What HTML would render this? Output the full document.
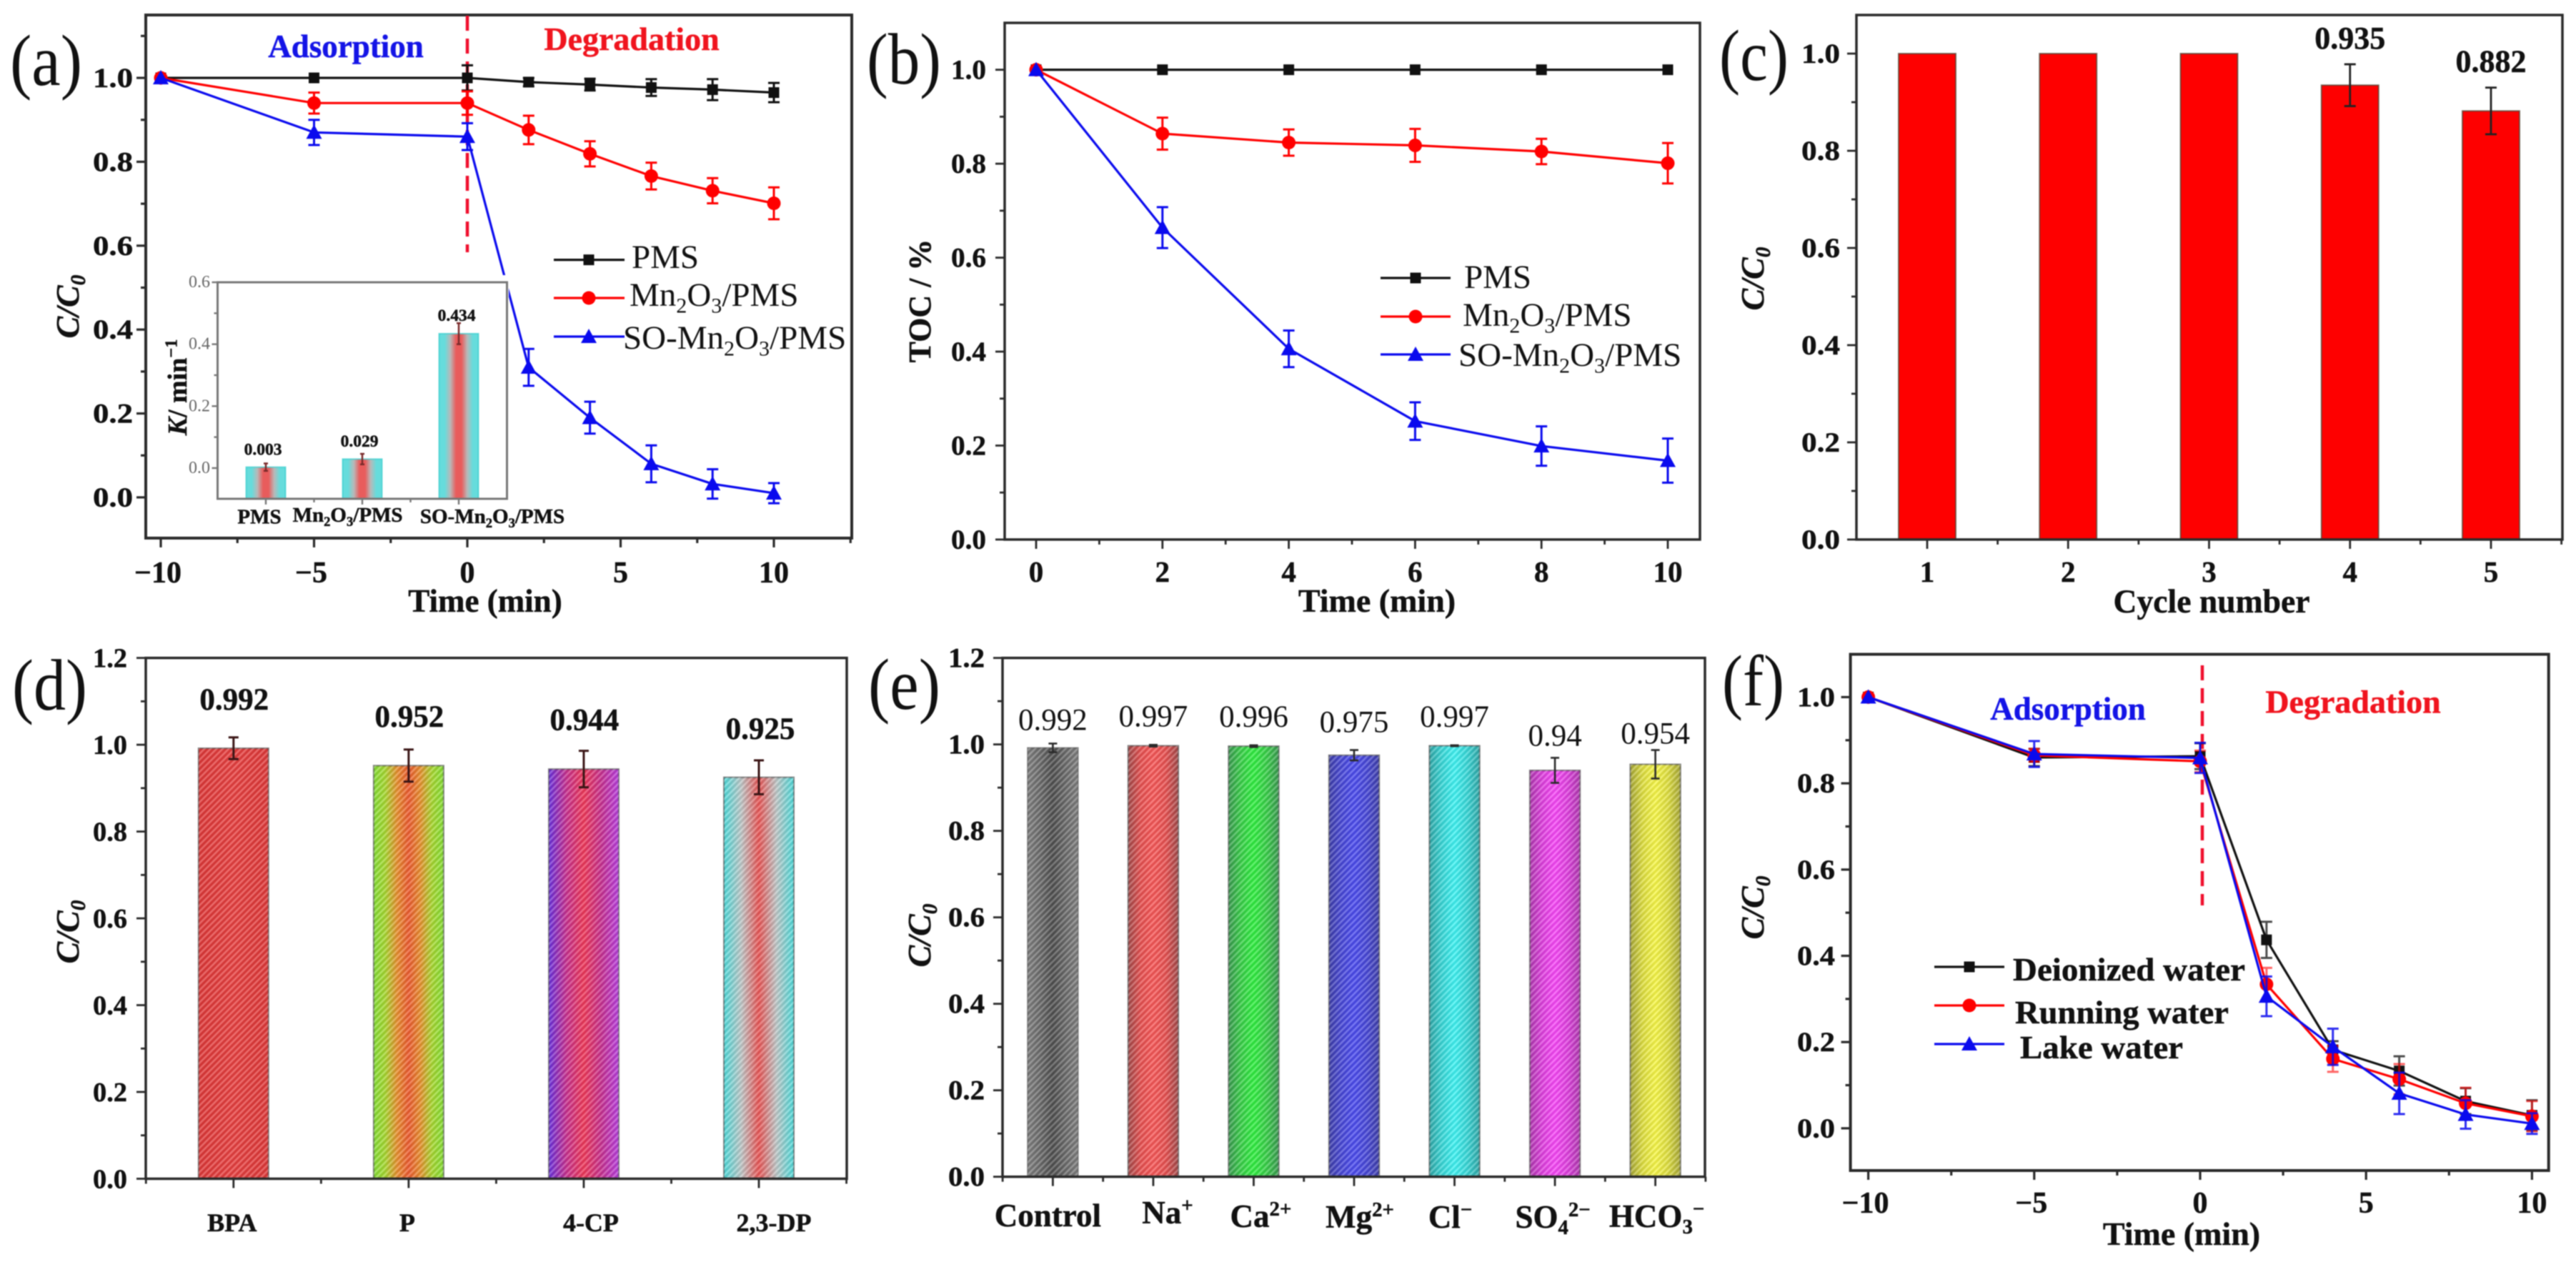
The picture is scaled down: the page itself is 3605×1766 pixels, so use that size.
<!DOCTYPE html>
<html lang="en">
<head>
<meta charset="utf-8">
<title>Degradation performance panels</title>
<style>
html,body{margin:0;padding:0;background:#fff;}
svg{display:block;filter:blur(0.7px);}
text{font-family:"Liberation Serif","DejaVu Serif",serif;}
</style>
</head>
<body>
<svg id="figure" xmlns="http://www.w3.org/2000/svg" width="3605" height="1766" viewBox="0 0 3605 1766">
<defs>
<pattern id="hatch" width="6" height="6" patternUnits="userSpaceOnUse" patternTransform="rotate(45)">
<rect width="2.6" height="6" fill="#fff" fill-opacity="0.24"/>
<rect x="2.6" width="3.4" height="6" fill="#000" fill-opacity="0.08"/>
</pattern>
</defs>
<rect width="3605" height="1766" fill="#fff"/>
</svg>
<script>
/* ---------- panel (a) data ---------- */
const aTime = [-10, -5, 0, 2, 4, 6, 8, 10];
const aPms = [1, 1, 1, 0.99, 0.984, 0.977, 0.972, 0.965];
const aPmsErr = [0, 0, 0.03, 0.01, 0.014, 0.02, 0.025, 0.023];
const aMn = [1, 0.94, 0.94, 0.876, 0.819, 0.766, 0.731, 0.701];
const aMnErr = [0, 0.025, 0.028, 0.034, 0.03, 0.032, 0.03, 0.038];
const aSo = [1, 0.87, 0.86, 0.31, 0.19, 0.08, 0.032, 0.01];
const aSoErr = [0, 0.03, 0.032, 0.044, 0.038, 0.044, 0.035, 0.024];
const aXMajor = [-10, -5, 0, 5, 10];
const aXMinor = [-7.5, -2.5, 2.5, 7.5, 12.5];
const aYMajor = [0, 0.2, 0.4, 0.6, 0.8, 1.0];
const aYMinor = [0.1, 0.3, 0.5, 0.7, 0.9, 1.1];

/* ---------- inset data ---------- */
const insetCategories = ['PMS', 'Mn_{2}O_{3}/PMS', 'SO-Mn_{2}O_{3}/PMS'];
const insetValues = [0.003, 0.029, 0.434];
const insetErr = [0.012, 0.017, 0.034];
const insetLabels = ['0.003', '0.029', '0.434'];
const insetYMajor = [0, 0.2, 0.4, 0.6];
const insetYMinor = [0.1, 0.3, 0.5];

/* ---------- panel (b) data ---------- */
const bTime = [0, 2, 4, 6, 8, 10];
const bPms = [1, 1, 1, 1, 1, 1];
const bMn = [1, 0.864, 0.845, 0.839, 0.826, 0.801];
const bMnErr = [0, 0.034, 0.028, 0.035, 0.027, 0.043];
const bSo = [1, 0.664, 0.406, 0.252, 0.199, 0.168];
const bSoErr = [0, 0.0435, 0.039, 0.04, 0.042, 0.047];
const bXMajor = [0, 2, 4, 6, 8, 10];
const bXMinor = [1, 3, 5, 7, 9];
const bYMajor = [0, 0.2, 0.4, 0.6, 0.8, 1.0];
const bYMinor = [0.1, 0.3, 0.5, 0.7, 0.9];

/* ---------- panel (c) data ---------- */
const cCycles = [1, 2, 3, 4, 5];
const cValues = [1, 1, 1, 0.935, 0.882];
const cErr = [0, 0, 0, 0.043, 0.048];
const cLabels = ['', '', '', '0.935', '0.882'];
const cXMinor = [1.5, 2.5, 3.5, 4.5, 5.5];
const cYMajor = [0, 0.2, 0.4, 0.6, 0.8, 1.0];
const cYMinor = [0.1, 0.3, 0.5, 0.7, 0.9];

/* ---------- panel (d) data ---------- */
const dCategories = ['BPA', 'P', '4-CP', '2,3-DP'];
const dValues = [0.992, 0.952, 0.944, 0.925];
const dErr = [0.025, 0.037, 0.042, 0.039];
const dLabels = ['0.992', '0.952', '0.944', '0.925'];
const dYMajor = [0, 0.2, 0.4, 0.6, 0.8, 1.0, 1.2];
const dYMinor = [0.1, 0.3, 0.5, 0.7, 0.9, 1.1];

/* ---------- panel (e) data ---------- */
const eCategories = ['Control', 'Na^{+}', 'Ca^{2+}', 'Mg^{2+}', 'Cl^{−}', 'SO_{4}^{2−}', 'HCO_{3}^{−}'];
const eValues = [0.992, 0.997, 0.996, 0.975, 0.997, 0.94, 0.954];
const eErr = [0.01, 0.002, 0.002, 0.012, 0.001, 0.029, 0.033];
const eLabels = ['0.992', '0.997', '0.996', '0.975', '0.997', '0.94', '0.954'];
const eYMajor = [0, 0.2, 0.4, 0.6, 0.8, 1.0, 1.2];
const eYMinor = [0.1, 0.3, 0.5, 0.7, 0.9, 1.1];

/* ---------- panel (f) data ---------- */
const fTime = [-10, -5, 0, 2, 4, 6, 8, 10];
const fDeionized = [1, 0.86, 0.863, 0.437, 0.182, 0.133, 0.063, 0.03];
const fDeionizedErr = [0, 0.02, 0.03, 0.042, 0.02, 0.034, 0.03, 0.035];
const fRunning = [1, 0.865, 0.851, 0.334, 0.161, 0.114, 0.058, 0.028];
const fRunningErr = [0, 0.015, 0.025, 0.038, 0.03, 0.035, 0.036, 0.035];
const fLake = [1, 0.868, 0.859, 0.306, 0.189, 0.081, 0.032, 0.011];
const fLakeErr = [0, 0.03, 0.035, 0.046, 0.042, 0.048, 0.033, 0.024];
const fXMajor = [-10, -5, 0, 5, 10];
const fXMinor = [-7.5, -2.5, 2.5, 7.5];
const fYMajor = [0, 0.2, 0.4, 0.6, 0.8, 1.0];
const fYMinor = [0.1, 0.3, 0.5, 0.7, 0.9];

/* ---------- helpers ---------- */
const NS = 'http://www.w3.org/2000/svg';
const root = document.getElementById('figure');
const INK = '#2a2a2a';

function mk(parent, tag, attrs, name) {
  const el = document.createElementNS(NS, tag);
  for (const k in attrs) el.setAttribute(k, attrs[k]);
  
  
  parent.appendChild(el);
  return el;
}
function scale(d0, d1, r0, r1) {
  return v => r0 + (v - d0) * (r1 - r0) / (d1 - d0);
}
function group(name) {
  return mk(root, 'g', {}, name);
}
function rich(t, s, fs) {
  const parts = s.split(/(_\{[^}]*\}|\^\{[^}]*\}|\*[^*]*\*)/).filter(p => p !== '');
  let back = 0;
  parts.forEach(p => {
    const ts = document.createElementNS(NS, 'tspan');
    let dy = back;
    back = 0;
    if (p[0] === '_' || p[0] === '^') {
      const shift = (p[0] === '_' ? 0.2 : -0.36) * fs;
      dy += shift;
      back = -shift;
      ts.setAttribute('font-size', (fs * 0.64).toFixed(1));
      ts.textContent = p.slice(2, -1);
    } else if (p[0] === '*') {
      ts.setAttribute('font-style', 'italic');
      ts.textContent = p.slice(1, -1);
    } else {
      ts.textContent = p;
    }
    if (dy) ts.setAttribute('dy', dy.toFixed(1));
    t.appendChild(ts);
  });
}
function label(parent, s, x, y, o, name) {
  const fs = o.size;
  const color = o.fill || '#111';
  const attrs = {x: x, y: y, 'font-size': fs, fill: color, 'text-anchor': o.anchor || 'middle'};
  if (o.bold) {
    attrs['font-weight'] = 'bold';
    attrs.stroke = color;
    attrs['stroke-width'] = 0.5;
  }
  if (o.italic) attrs['font-style'] = 'italic';
  if (o.rotate) attrs.transform = 'rotate(' + o.rotate + ' ' + x + ' ' + y + ')';
  if (o.len) {
    attrs.textLength = o.len;
    attrs.lengthAdjust = 'spacingAndGlyphs';
  }
  const t = mk(parent, 'text', attrs, name);
  rich(t, s, fs);
  return t;
}
function line(parent, x1, y1, x2, y2, stroke, w, name) {
  return mk(parent, 'line', {x1: x1, y1: y1, x2: x2, y2: y2, stroke: stroke, 'stroke-width': w}, name);
}
function axes(g, p, box, sx, sy, spec) {
  const c = spec.color || INK;
  const w = spec.width || 3.5;
  mk(g, 'rect', {x: box.l, y: box.t, width: box.r - box.l, height: box.b - box.t, fill: 'none', stroke: c, 'stroke-width': w}, p + '-plot-frame');
  const maj = spec.majorLen || 13, min = spec.minorLen || 7;
  (spec.xMajor || []).forEach(v => line(g, sx(v), box.b, sx(v), box.b + maj, c, w * 0.8, p + '-x-major-tick'));
  (spec.xMinor || []).forEach(v => line(g, sx(v), box.b, sx(v), box.b + min, c, w * 0.8, p + '-x-minor-tick'));
  (spec.yMajor || []).forEach(v => line(g, box.l, sy(v), box.l - maj, sy(v), c, w * 0.8, p + '-y-major-tick'));
  (spec.yMinor || []).forEach(v => line(g, box.l, sy(v), box.l - min, sy(v), c, w * 0.8, p + '-y-minor-tick'));
  (spec.yMajor || []).forEach(v => {
    label(g, v.toFixed(1), spec.yLabelX, sy(v) + spec.yLabelDy, {size: spec.tickSize, bold: spec.tickBold !== false, anchor: 'end', len: spec.yLabelLen, fill: spec.tickFill}, p + '-y-tick-label');
  });
  if (spec.xLabelY) {
    (spec.xMajor || []).forEach(v => {
      label(g, String(v).replace('-', '−'), sx(v) + (v < 0 ? -4 : 0), spec.xLabelY, {size: spec.xTickSize || spec.tickSize, bold: true}, p + '-x-tick-label');
    });
  }
}
function marker(g, kind, x, y, color, name) {
  if (kind === 'square') return mk(g, 'rect', {x: x - 7.5, y: y - 7.5, width: 15, height: 15, fill: color}, name);
  if (kind === 'circle') return mk(g, 'circle', {cx: x, cy: y, r: 9.5, fill: color}, name);
  return mk(g, 'polygon', {points: (x - 11) + ',' + (y + 9) + ' ' + (x + 11) + ',' + (y + 9) + ' ' + x + ',' + (y - 11), fill: color}, name);
}
function errorBar(g, x, yTop, yBot, color, w, cap, name) {
  line(g, x, yTop, x, yBot, color, w, name + '-stem');
  line(g, x - cap, yTop, x + cap, yTop, color, w, name + '-cap-top');
  line(g, x - cap, yBot, x + cap, yBot, color, w, name + '-cap-bottom');
}
function series(g, name, xs, ys, errs, sx, sy, color, kind, alpha) {
  const sg = mk(g, 'g', {}, name + '-series');
  const pts = xs.map((v, i) => sx(v).toFixed(1) + ',' + sy(ys[i]).toFixed(1)).join(' ');
  mk(sg, 'polyline', {points: pts, fill: 'none', stroke: color, 'stroke-width': 3.2, 'stroke-linejoin': 'round'}, name + '-line');
  xs.forEach((v, i) => {
    if (errs && errs[i] > 0) {
      const eg = mk(sg, 'g', {opacity: alpha || 1}, name + '-error-bar');
      errorBar(eg, sx(v), sy(ys[i] + errs[i]), sy(ys[i] - errs[i]), color, 3, 8, name + '-error');
    }
    marker(sg, kind, sx(v), sy(ys[i]), color, name + '-marker');
  });
}
function legendEntry(g, name, x1, x2, xm, y, color, kind, text, tx, ty, o) {
  const eg = mk(g, 'g', {}, name);
  line(eg, x1, y, x2, y, color, 3.2, name + '-line');
  marker(eg, kind, xm, y, color, name + '-marker');
  label(eg, text, tx, ty, o, name + '-label');
}
function gradient(id, stops) {
  const defs = root.querySelector('defs');
  const g = document.createElementNS(NS, 'linearGradient');
  g.setAttribute('id', id);
  stops.forEach((c, i) => {
    const s = document.createElementNS(NS, 'stop');
    s.setAttribute('offset', (i / (stops.length - 1)).toFixed(3));
    s.setAttribute('stop-color', c);
    g.appendChild(s);
  });
  defs.appendChild(g);
}
function bar(g, name, x, w, yTop, yBase, fill, hatch, stroke) {
  mk(g, 'rect', {x: x - w / 2, y: yTop, width: w, height: yBase - yTop, fill: fill, stroke: stroke || '#555', 'stroke-opacity': 0.7, 'stroke-width': 2}, name);
  if (hatch) mk(g, 'rect', {x: x - w / 2, y: yTop, width: w, height: yBase - yTop, fill: 'url(#hatch)'}, name + '-hatching');
}
function dashed(g, x, y1, y2, name) {
  mk(g, 'line', {x1: x, y1: y1, x2: x, y2: y2, stroke: '#f00f2d', 'stroke-width': 4.5, 'stroke-dasharray': '21 11'}, name);
}

/* ---------- panel (a) ---------- */
(function () {
  const g = group('panel-a');
  const sx = scale(-10, 10, 225, 1083), sy = scale(0, 1, 696, 109);
  axes(g, 'panel-a', {l: 204, r: 1192, t: 21, b: 753}, sx, sy, {
    xMajor: aXMajor, xMinor: aXMinor, yMajor: aYMajor, yMinor: aYMinor,
    yLabelX: 186, yLabelDy: 13, yLabelLen: 56, tickSize: 39, xLabelY: 815, xTickSize: 42, width: 4
  });
  label(g, '(a)', 14, 119, {size: 102, anchor: 'start', len: 101}, 'panel-a-letter');
  label(g, 'Adsorption', 484, 80, {size: 45, bold: true, fill: '#1414e6'}, 'panel-a-adsorption-label');
  label(g, 'Degradation', 884, 70, {size: 46, bold: true, fill: '#f0141e'}, 'panel-a-degradation-label');
  dashed(g, sx(0), 22, 353, 'panel-a-divider-line');
  series(g, 'panel-a-pms', aTime, aPms, aPmsErr, sx, sy, '#111', 'square');
  series(g, 'panel-a-mn2o3', aTime, aMn, aMnErr, sx, sy, '#f00', 'circle');
  series(g, 'panel-a-so-mn2o3', aTime, aSo, aSoErr, sx, sy, '#0a0aee', 'triangle');
  label(g, 'Time (min)', 679, 856, {size: 45, bold: true}, 'panel-a-x-axis-title');
  label(g, 'C/C_{0}', 110, 429, {size: 46, bold: true, italic: true, rotate: -90}, 'panel-a-y-axis-title');
  const leg = mk(g, 'g', {}, 'panel-a-legend');
  const lo = {size: 47, anchor: 'start'};
  legendEntry(leg, 'legend-pms', 775, 874, 824, 363.6, '#111', 'square', 'PMS', 884, 375, lo);
  legendEntry(leg, 'legend-mn2o3', 775, 874, 824, 417, '#f00', 'circle', 'Mn_{2}O_{3}/PMS', 881, 428, lo);
  legendEntry(leg, 'legend-so-mn2o3', 775, 874, 824, 471, '#0a0aee', 'triangle', 'SO-Mn_{2}O_{3}/PMS', 872, 488, lo);

  /* inset */
  const ig = mk(g, 'g', {}, 'panel-a-inset');
  mk(ig, 'rect', {x: 298, y: 385, width: 414, height: 315, fill: '#fff'}, 'inset-background');
  const ix = scale(0.5, 3.5, 304.5, 709.5), iy = scale(0, 0.6, 655, 395);
  insetCategories.forEach((c, i) => {
    const x = ix(i + 1);
    bar(ig, 'inset-bar', x, 55, iy(insetValues[i]), 698, 'url(#gInset)', false, '#3cc');
  });
  insetCategories.forEach((c, i) => {
    const x = ix(i + 1);
    errorBar(ig, x, iy(insetValues[i] + insetErr[i]), iy(insetValues[i] - insetErr[i]), '#7a2a2a', 2.5, 3, 'inset-error');
  });
  axes(ig, 'inset', {l: 304.5, r: 709.5, t: 395, b: 698}, ix, iy, {
    xMajor: [1, 2, 3], xMinor: [1.5, 2.5], yMajor: insetYMajor, yMinor: insetYMinor,
    yLabelX: 294, yLabelDy: 7, tickSize: 24, tickBold: false, tickFill: '#666', color: '#777', width: 3, majorLen: 8, minorLen: 5
  });
  const ilx = [363, 486.6, 689], ily = [732.7, 730, 732], ivx = [368, 503, 639], ivy = [636.7, 625, 449];
  insetCategories.forEach((c, i) => label(ig, c, ilx[i], ily[i], {size: 29, bold: true}, 'inset-category-label'));
  insetLabels.forEach((c, i) => label(ig, c, ivx[i], ivy[i], {size: 23.5, bold: true}, 'inset-value-label'));
  label(ig, '*K*/ min^{−1}', 261, 542, {size: 38, bold: true, rotate: -90}, 'inset-y-axis-title');
})();

/* ---------- panel (b) ---------- */
(function () {
  const g = group('panel-b');
  const sx = scale(0, 10, 1450, 2334), sy = scale(0, 1, 755, 97.6);
  axes(g, 'panel-b', {l: 1406, r: 2379, t: 32, b: 755}, sx, sy, {
    xMajor: bXMajor, xMinor: bXMinor, yMajor: bYMajor, yMinor: bYMinor,
    yLabelX: 1380, yLabelDy: 13, yLabelLen: 49, tickSize: 39, xLabelY: 814, xTickSize: 41
  });
  label(g, '(b)', 1213, 117, {size: 102, anchor: 'start', len: 104}, 'panel-b-letter');
  series(g, 'panel-b-pms', bTime, bPms, null, sx, sy, '#111', 'square');
  series(g, 'panel-b-mn2o3', bTime, bMn, bMnErr, sx, sy, '#f00', 'circle');
  series(g, 'panel-b-so-mn2o3', bTime, bSo, bSoErr, sx, sy, '#0a0aee', 'triangle');
  label(g, 'Time (min)', 1927, 856, {size: 46, bold: true}, 'panel-b-x-axis-title');
  label(g, 'TOC / %', 1302, 421, {size: 44, bold: true, rotate: -90}, 'panel-b-y-axis-title');
  const leg = mk(g, 'g', {}, 'panel-b-legend');
  const lo = {size: 47, anchor: 'start'};
  legendEntry(leg, 'legend-pms', 1932, 2030, 1981, 389, '#111', 'square', 'PMS', 2049, 403, lo);
  legendEntry(leg, 'legend-mn2o3', 1932, 2030, 1981, 443, '#f00', 'circle', 'Mn_{2}O_{3}/PMS', 2047, 456, lo);
  legendEntry(leg, 'legend-so-mn2o3', 1932, 2030, 1981, 496, '#0a0aee', 'triangle', 'SO-Mn_{2}O_{3}/PMS', 2041, 512, lo);
})();

/* ---------- panel (c) ---------- */
(function () {
  const g = group('panel-c');
  const sx = scale(1, 5, 2697, 3486), sy = scale(0, 1, 755, 75);
  cCycles.forEach((c, i) => bar(g, 'panel-c-bar-cycle-' + c, sx(c), 80, sy(cValues[i]), sy(0), '#fe0000', false, '#443'));
  cCycles.forEach((c, i) => {
    if (cErr[i] > 0) errorBar(g, sx(c), sy(cValues[i] + cErr[i]), sy(cValues[i] - cErr[i]), '#222', 2.8, 8, 'panel-c-error');
  });
  axes(g, 'panel-c', {l: 2598, r: 3586, t: 21, b: 755}, sx, sy, {
    xMajor: cCycles, xMinor: cXMinor, yMajor: cYMajor, yMinor: cYMinor,
    yLabelX: 2575, yLabelDy: 13, yLabelLen: 54, tickSize: 39, xLabelY: 814, xTickSize: 41
  });
  cCycles.forEach((c, i) => {
    if (cLabels[i]) label(g, cLabels[i], sx(c), sy(cValues[i] + cErr[i]) - 22, {size: 44, bold: true}, 'panel-c-value-label');
  });
  label(g, '(c)', 2406, 112, {size: 102, anchor: 'start', len: 97}, 'panel-c-letter');
  label(g, 'Cycle number', 3095, 857, {size: 47, bold: true, len: 275}, 'panel-c-x-axis-title');
  label(g, 'C/C_{0}', 2468, 390, {size: 46, bold: true, italic: true, rotate: -90}, 'panel-c-y-axis-title');
})();

/* ---------- gradients (bar styling only) ---------- */
gradient('gInset', ['#66dcdc', '#66dcdc', '#b8b8b8', '#e85c5c', '#e85c5c', '#b8b8b8', '#66dcdc', '#66dcdc']);
const dFills = [
  ['#e03838', '#e84040', '#e03838'],
  ['#84e034', '#a8d830', '#e8902e', '#ee5a30', '#e8902e', '#a8d830', '#84e034'],
  ['#6a30e0', '#c83090', '#f03858', '#c83090', '#b83ee0'],
  ['#4cdcdc', '#c0c8c8', '#ea5454', '#c0c8c8', '#4cdcdc']
];
const eFills = [
  ['#808080', '#6a6a6a', '#4e4e4e', '#6a6a6a', '#808080'],
  ['#a24a4a', '#e85050', '#f85858', '#e85050', '#a24a4a'],
  ['#3a9a50', '#38d048', '#30f040', '#38d048', '#3a9a50'],
  ['#3e3eaa', '#4848d8', '#4c4cf0', '#4848d8', '#3e3eaa'],
  ['#30a8a8', '#38d8d8', '#40f4f4', '#38d8d8', '#30a8a8'],
  ['#b038b0', '#e040e0', '#f848f8', '#e040e0', '#b038b0'],
  ['#a8a838', '#e0e040', '#f8f848', '#e0e040', '#a8a838']
];
dFills.forEach((s, i) => gradient('gD' + i, s));
eFills.forEach((s, i) => gradient('gE' + i, s));

/* ---------- panel (d) ---------- */
(function () {
  const g = group('panel-d');
  const sx = scale(1, 4, 326.8, 1062), sy = scale(0, 1.2, 1649.5, 920.7);
  const labelNudge = [-2, -2, 10, 21], valueNudge = [1, 1, 1, 2];
  const valueLift = [39, 32, 29, 30];
  const slots = [1, 2, 3, 4];
  slots.forEach((c, i) => bar(g, 'panel-d-bar', sx(c), 98, sy(dValues[i]), sy(0), 'url(#gD' + i + ')', true));
  slots.forEach((c, i) => errorBar(g, sx(c), sy(dValues[i] + dErr[i]), sy(dValues[i] - dErr[i]), '#3a1515', 3, 7, 'panel-d-error'));
  axes(g, 'panel-d', {l: 204, r: 1185, t: 920.7, b: 1649.5}, sx, sy, {
    xMajor: slots, xMinor: [0.5, 1.5, 2.5, 3.5, 4.5], yMajor: dYMajor, yMinor: dYMinor,
    yLabelX: 178, yLabelDy: 13, yLabelLen: 48, tickSize: 38
  });
  slots.forEach((c, i) => {
    label(g, dLabels[i], sx(c) + valueNudge[i], sy(dValues[i] + dErr[i]) - valueLift[i], {size: 43, bold: true}, 'panel-d-value-label');
    label(g, dCategories[i], sx(c) + labelNudge[i], 1723, {size: 36, bold: true}, 'panel-d-category-label');
  });
  label(g, '(d)', 17, 993, {size: 102, anchor: 'start', len: 105}, 'panel-d-letter');
  label(g, 'C/C_{0}', 110, 1304, {size: 46, bold: true, italic: true, rotate: -90}, 'panel-d-y-axis-title');
})();

/* ---------- panel (e) ---------- */
(function () {
  const g = group('panel-e');
  const sx = scale(1, 7, 1473.4, 2316.6), sy = scale(0, 1.2, 1646.7, 920.7);
  const labelNudge = [-7, 20, 10, 8, -6, -3, 2];
  const labelBase = [1716, 1712, 1717, 1718, 1718, 1718, 1717];
  const valueLift = [19, 26, 26, 25, 26, 17, 9];
  const slots = [1, 2, 3, 4, 5, 6, 7];
  slots.forEach((c, i) => bar(g, 'panel-e-bar', sx(c), 70.4, sy(eValues[i]), sy(0), 'url(#gE' + i + ')', true));
  slots.forEach((c, i) => errorBar(g, sx(c), sy(eValues[i] + eErr[i]), sy(eValues[i] - eErr[i]), '#2a2a2a', 2.6, 6, 'panel-e-error'));
  axes(g, 'panel-e', {l: 1403, r: 2386, t: 920.7, b: 1646.7}, sx, sy, {
    xMajor: slots, xMinor: [0.5, 1.5, 2.5, 3.5, 4.5, 5.5, 6.5, 7.5], yMajor: eYMajor, yMinor: eYMinor,
    yLabelX: 1378, yLabelDy: 13, yLabelLen: 51, tickSize: 39
  });
  slots.forEach((c, i) => {
    label(g, eLabels[i], sx(c), sy(eValues[i] + eErr[i]) - valueLift[i], {size: 43}, 'panel-e-value-label');
    label(g, eCategories[i], sx(c) + labelNudge[i], labelBase[i], {size: 45, bold: true}, 'panel-e-category-label');
  });
  label(g, '(e)', 1215, 992, {size: 102, anchor: 'start', len: 101}, 'panel-e-letter');
  label(g, 'C/C_{0}', 1302, 1309, {size: 46, bold: true, italic: true, rotate: -90}, 'panel-e-y-axis-title');
})();

/* ---------- panel (f) ---------- */
(function () {
  const g = group('panel-f');
  const sx = scale(-10, 10, 2614.6, 3543.4), sy = scale(0, 1, 1578.9, 975.5);
  axes(g, 'panel-f', {l: 2589.6, r: 3566.7, t: 915.6, b: 1638}, sx, sy, {
    xMajor: fXMajor, xMinor: fXMinor, yMajor: fYMajor, yMinor: fYMinor,
    yLabelX: 2568, yLabelDy: 13, yLabelLen: 53, tickSize: 39, xLabelY: 1697, xTickSize: 42, width: 4
  });
  label(g, '(f)', 2410, 987, {size: 102, anchor: 'start', len: 87}, 'panel-f-letter');
  label(g, 'Adsorption', 2894, 1007, {size: 45, bold: true, fill: '#1414e6'}, 'panel-f-adsorption-label');
  label(g, 'Degradation', 3293, 997.5, {size: 46, bold: true, fill: '#f0141e'}, 'panel-f-degradation-label');
  dashed(g, sx(0) + 3, 931, 1267, 'panel-f-divider-line');
  series(g, 'panel-f-deionized', fTime, fDeionized, fDeionizedErr, sx, sy, '#111', 'square', 0.75);
  series(g, 'panel-f-running', fTime, fRunning, fRunningErr, sx, sy, '#f00', 'circle', 0.6);
  series(g, 'panel-f-lake', fTime, fLake, fLakeErr, sx, sy, '#0a0aee', 'triangle', 0.85);
  label(g, 'Time (min)', 3053, 1742, {size: 46, bold: true}, 'panel-f-x-axis-title');
  label(g, 'C/C_{0}', 2468, 1270, {size: 46, bold: true, italic: true, rotate: -90}, 'panel-f-y-axis-title');
  const leg = mk(g, 'g', {}, 'panel-f-legend');
  legendEntry(leg, 'legend-deionized', 2707, 2805, 2756, 1353, '#111', 'square', 'Deionized water', 2817, 1372, {size: 45, bold: true, anchor: 'start', len: 325});
  legendEntry(leg, 'legend-running', 2707, 2805, 2756, 1407, '#f00', 'circle', 'Running water', 2820, 1432, {size: 45, bold: true, anchor: 'start', len: 299});
  legendEntry(leg, 'legend-lake', 2707, 2805, 2756, 1461, '#0a0aee', 'triangle', 'Lake water', 2827, 1481, {size: 45, bold: true, anchor: 'start', len: 228});
})();
</script>
</body>
</html>
